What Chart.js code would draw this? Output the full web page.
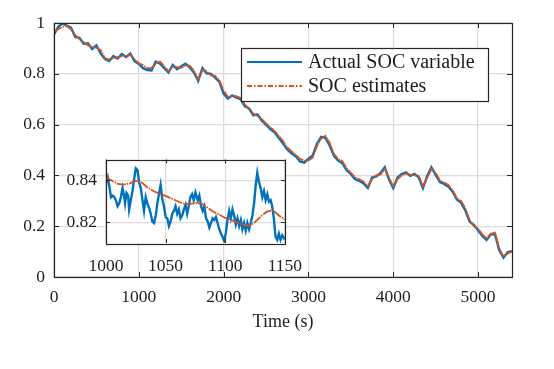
<!DOCTYPE html>
<html><head><meta charset="utf-8">
<script src="https://cdn.jsdelivr.net/npm/chart.js@4"></script>
<style>
html,body{margin:0;padding:0;background:#fff;}
#wrap{position:relative;width:554px;height:369px;overflow:hidden;}
#main{position:absolute;left:0;top:0;}
#inset{position:absolute;left:40px;top:140px;}
</style></head><body>
<div id="wrap">
<canvas id="main" width="554" height="369"></canvas>
<canvas id="inset" width="275" height="140"></canvas>
</div>
<script>
// ---------- data ----------
const seriesLabels = ['Actual SOC variable', 'SOC estimates'];
const xAxisTitle = 'Time (s)';

const xTicksMain = [0, 1000, 2000, 3000, 4000, 5000];
const xTickLabelsMain = ['0', '1000', '2000', '3000', '4000', '5000'];
const yTicksMain = [0, 0.2, 0.4, 0.6, 0.8, 1];
const yTickLabelsMain = ['0', '0.2', '0.4', '0.6', '0.8', '1'];

const xTicksInset = [1000, 1050, 1100, 1150];
const xTickLabelsInset = ['1000', '1050', '1100', '1150'];
const yTicksInset = [0.82, 0.84];
const yTickLabelsInset = ['0.82', '0.84'];

const mainTime = [0,50,100,150,200,250,300,350,400,450,500,550,600,650,700,750,800,850,900,950,
1000,1050,1100,1150,1200,1250,1300,1350,1400,1450,1500,1550,1600,1650,1700,1750,1800,1850,1900,1950,
2000,2050,2100,2150,2200,2250,2300,2350,2400,2450,2500,2550,2600,2650,2700,2750,2800,2850,2900,2950,
3000,3050,3100,3150,3200,3250,3300,3350,3400,3450,3500,3550,3600,3650,3700,3750,3800,3850,3900,3950,
4000,4050,4100,4150,4200,4250,4300,4350,4400,4450,4500,4550,4600,4650,4700,4750,4800,4850,4900,4950,
5000,5050,5100,5150,5200,5250,5300,5350,5400];

const actualSOC = [
0.955,0.985,0.998,0.990,0.982,0.945,0.942,0.918,0.920,0.898,
0.912,0.880,0.858,0.850,0.870,0.860,0.878,0.866,0.880,0.850,
0.839,0.822,0.815,0.813,0.848,0.840,0.822,0.805,0.835,0.818,
0.830,0.840,0.825,0.805,0.772,0.822,0.802,0.800,0.785,0.768,
0.722,0.702,0.715,0.706,0.700,0.672,0.664,0.636,0.640,0.615,
0.600,0.582,0.570,0.548,0.525,0.502,0.487,0.475,0.455,0.450,
0.466,0.478,0.525,0.552,0.548,0.518,0.478,0.458,0.448,0.420,
0.405,0.385,0.378,0.368,0.350,0.392,0.396,0.410,0.432,0.384,
0.350,0.392,0.405,0.412,0.398,0.406,0.392,0.350,0.398,0.432,
0.402,0.374,0.366,0.355,0.336,0.305,0.292,0.262,0.218,0.205,
0.184,0.162,0.146,0.168,0.168,0.105,0.076,0.098,0.102];

const estimatedSOC = [
0.965,0.975,0.985,0.988,0.975,0.952,0.937,0.925,0.912,0.905,
0.903,0.893,0.862,0.856,0.862,0.866,0.869,0.871,0.874,0.858,
0.841,0.834,0.823,0.822,0.840,0.848,0.830,0.810,0.828,0.826,
0.824,0.832,0.832,0.812,0.778,0.815,0.810,0.794,0.792,0.775,
0.735,0.709,0.711,0.712,0.705,0.680,0.660,0.644,0.634,0.622,
0.605,0.590,0.575,0.556,0.535,0.510,0.495,0.482,0.465,0.458,
0.459,0.470,0.515,0.545,0.556,0.528,0.485,0.465,0.456,0.428,
0.410,0.392,0.385,0.375,0.357,0.385,0.401,0.403,0.425,0.390,
0.358,0.385,0.400,0.407,0.403,0.400,0.398,0.358,0.390,0.425,
0.410,0.380,0.372,0.362,0.342,0.310,0.300,0.270,0.225,0.200,
0.190,0.168,0.152,0.170,0.175,0.112,0.080,0.093,0.099];

const insetActualTime = [1000,1001.4,1002.8,1004.2,1005.6,1006.9,1008.3,1009.7,1011.1,1012.5,
1013.9,1015.3,1016,1017.2,1018.6,1019.4,1020.8,1022.2,1023.6,1025,
1026.4,1027.8,1029.2,1030.6,1031.9,1033.3,1034.7,1036.1,1037.5,1038.9,
1040.3,1041.7,1043.1,1044.4,1045.8,1047.2,1048.6,1050,1051.4,1052.8,
1054.2,1055.6,1056.9,1058.3,1059.7,1061.1,1062.5,1063.9,1065.3,1066.7,
1068.1,1069.4,1070.8,1072.2,1073.6,1075,1076.9,1078.3,1079.7,1081.1,
1082.5,1083.9,1085.3,1086.7,1088.1,1089.4,1090.8,1092.2,1093.6,1095,
1096.4,1097.8,1099.2,1100.6,1101.9,1103.3,1104.7,1106.1,1107.5,1108.9,
1110.3,1111.7,1113.1,1114.4,1115.8,1117.2,1118.6,1120,1121.4,1122.8,
1124.2,1125.6,1126.9,1128.3,1129.7,1131.1,1132.5,1133.9,1135.3,1136.7,
1138.1,1139.4,1140.8,1142.2,1143.6,1145,1146.4,1147.8,1149.2,1150];

const insetActualSOC = [0.8390,0.8415,0.8370,0.8320,0.8327,0.8320,0.8305,0.8276,0.8290,0.8320,
0.8363,0.8320,0.8290,0.8340,0.8327,0.8261,0.8305,0.8349,0.8407,0.8458,
0.8450,0.8390,0.8363,0.8305,0.8254,0.8320,0.8290,0.8269,0.8240,0.8203,
0.8196,0.8232,0.8290,0.8334,0.8378,0.8312,0.8276,0.8225,0.8218,0.8181,
0.8203,0.8240,0.8254,0.8276,0.8240,0.8261,0.8218,0.8232,0.8261,0.8283,
0.8240,0.8276,0.8320,0.8334,0.8305,0.8342,0.8305,0.8327,0.8276,0.8254,
0.8276,0.8218,0.8203,0.8174,0.8196,0.8218,0.8210,0.8225,0.8196,0.8166,
0.8145,0.8130,0.8108,0.8152,0.8210,0.8254,0.8218,0.8261,0.8232,0.8188,
0.8218,0.8181,0.8210,0.8166,0.8196,0.8159,0.8196,0.8166,0.8196,0.8232,
0.8290,0.8378,0.8436,0.8393,0.8363,0.8320,0.8349,0.8305,0.8334,0.8298,
0.8305,0.8276,0.8218,0.8130,0.8115,0.8145,0.8115,0.8137,0.8123,0.8130];

const insetEstTime = [1000,1005,1010,1015,1020,1025,1030,1035,1040,1045,1050,1055,1060,1065,1070,1075,
1080,1085,1090,1095,1100,1105,1110,1115,1120,1125,1130,1135,1140,1145,1150];
const insetEstSOC = [0.8415,0.8398,0.8383,0.8380,0.8386,0.8398,0.8390,0.8365,0.8348,0.8336,0.8326,0.8313,
0.8300,0.8289,0.8286,0.8292,0.8290,0.8270,0.8250,0.8236,0.8220,0.8211,0.8198,0.8188,0.8182,0.8200,
0.8228,0.8250,0.8257,0.8232,0.8212];

// ---------- styling ----------
const FONT = "'Liberation Serif', 'Times New Roman', serif";
const TXT = '#1e1e1e';
const AXC = '#262626';
const GRID = '#dcdcdc';
const BLUE = '#0072BD';
const ORANGE = '#D95319';
const PLOT_DASH = [9, 1, 1.5, 1];
const LEGEND_DASH = [5, 2, 1.5, 2];

const pts = (xs, ys) => xs.map((x, i) => ({x: x, y: ys[i]}));

const framePlugin = {
  id: 'frame',
  afterDraw(chart, args, opts) {
    const {ctx, chartArea: a, scales} = chart;
    const L = opts.tick;
    ctx.save();
    ctx.strokeStyle = AXC;
    ctx.lineWidth = 1;
    ctx.beginPath();
    scales.x.ticks.forEach(t => {
      const p = Math.round(scales.x.getPixelForValue(t.value)) + 0.5;
      ctx.moveTo(p, a.bottom); ctx.lineTo(p, a.bottom - L);
      ctx.moveTo(p, a.top); ctx.lineTo(p, a.top + L);
    });
    scales.y.ticks.forEach(t => {
      const p = Math.round(scales.y.getPixelForValue(t.value)) + 0.5;
      ctx.moveTo(a.left, p); ctx.lineTo(a.left + L, p);
      ctx.moveTo(a.right, p); ctx.lineTo(a.right - L, p);
    });
    ctx.stroke();
    ctx.lineWidth = 1.2;
    ctx.strokeRect(Math.round(a.left) + 0.5, Math.round(a.top) + 0.5,
                   Math.round(a.right - a.left), Math.round(a.bottom - a.top));
    ctx.restore();
  }
};

const whiteArea = {
  id: 'whiteArea',
  beforeDraw(chart) {
    const {ctx, chartArea: a} = chart;
    ctx.save();
    ctx.fillStyle = '#fff';
    ctx.fillRect(a.left, a.top, a.right - a.left, a.bottom - a.top);
    ctx.restore();
  }
};

const boxLegend = {
  id: 'boxLegend',
  afterDraw(chart, args, o) {
    const ctx = chart.ctx;
    ctx.save();
    ctx.fillStyle = '#fff';
    ctx.fillRect(o.x, o.y, o.w, o.h);
    ctx.strokeStyle = AXC;
    ctx.lineWidth = 1.2;
    ctx.strokeRect(o.x + 0.5, o.y + 0.5, o.w, o.h);
    const ds = chart.data.datasets;
    const order = [1, 0];
    order.forEach((di, row) => {
      const d = ds[di];
      const yy = o.y + o.rowY[row];
      ctx.beginPath();
      ctx.strokeStyle = d.borderColor;
      ctx.lineWidth = 2;
      ctx.setLineDash(d.borderDash ? LEGEND_DASH : []);
      ctx.moveTo(o.x + 6, yy); ctx.lineTo(o.x + 61, yy);
      ctx.stroke();
      ctx.setLineDash([]);
      ctx.fillStyle = TXT;
      ctx.font = o.fontSize + 'px ' + FONT;
      ctx.textBaseline = 'middle';
      ctx.textAlign = 'left';
      ctx.fillText(d.label, o.x + 67, yy + 1);
    });
    ctx.restore();
  }
};

const tickFont = {family: FONT, size: 17.5};

new Chart(document.getElementById('main'), {
  type: 'line',
  data: {
    datasets: [
      {label: seriesLabels[1], data: pts(mainTime, estimatedSOC), borderColor: ORANGE,
       borderWidth: 1.8, borderDash: PLOT_DASH, pointRadius: 0, tension: 0, order: 0},
      {label: seriesLabels[0], data: pts(mainTime, actualSOC), borderColor: BLUE,
       borderWidth: 2.4, pointRadius: 0, tension: 0, order: 1}
    ]
  },
  options: {
    responsive: false, animation: false, events: [],
    layout: {padding: {top: 23, right: 42, bottom: 0, left: 0}},
    plugins: {
      legend: {display: false}, tooltip: {enabled: false},
      frame: {tick: 5},
      boxLegend: {x: 241, y: 48, w: 247, h: 53, rowY: [14, 38], fontSize: 20}
    },
    scales: {
      x: {
        type: 'linear', min: 0, max: 5400,
        afterBuildTicks: s => { s.ticks = xTicksMain.map(v => ({value: v})); },
        afterFit: s => { s.height = 92; },
        grid: {color: GRID, lineWidth: 1.2, drawTicks: false},
        border: {display: false},
        ticks: {font: tickFont, color: TXT, padding: 10, maxRotation: 0, autoSkip: false,
                callback: (v, i) => xTickLabelsMain[i]},
        title: {display: true, text: xAxisTitle, color: TXT, font: {family: FONT, size: 18},
                padding: {top: 0, bottom: 36}}
      },
      y: {
        type: 'linear', min: 0, max: 1,
        afterBuildTicks: s => { s.ticks = yTicksMain.map(v => ({value: v})); },
        afterFit: s => { s.width = 54; },
        grid: {color: GRID, lineWidth: 1.2, drawTicks: false},
        border: {display: false},
        ticks: {font: tickFont, color: TXT, padding: 9, callback: (v, i) => yTickLabelsMain[i]}
      }
    }
  },
  plugins: [framePlugin, boxLegend]
});

new Chart(document.getElementById('inset'), {
  type: 'line',
  data: {
    datasets: [
      {label: seriesLabels[1], data: pts(insetEstTime, insetEstSOC), borderColor: ORANGE,
       borderWidth: 1.8, borderDash: PLOT_DASH, pointRadius: 0, tension: 0, order: 0},
      {label: seriesLabels[0], data: pts(insetActualTime, insetActualSOC), borderColor: BLUE,
       borderWidth: 2.4, pointRadius: 0, tension: 0, order: 1}
    ]
  },
  options: {
    responsive: false, animation: false, events: [],
    layout: {padding: {top: 13, right: 30, bottom: 0, left: 0}},
    plugins: {legend: {display: false}, tooltip: {enabled: false}, frame: {tick: 4}},
    scales: {
      x: {
        type: 'linear', min: 1000, max: 1150,
        afterBuildTicks: s => { s.ticks = xTicksInset.map(v => ({value: v})); },
        afterFit: s => { s.height = 37; },
        grid: {color: GRID, lineWidth: 1.2, drawTicks: false},
        border: {display: false},
        ticks: {font: tickFont, color: TXT, padding: 13, maxRotation: 0, autoSkip: false,
                callback: (v, i) => xTickLabelsInset[i]}
      },
      y: {
        type: 'linear', min: 0.81, max: 0.85,
        afterBuildTicks: s => { s.ticks = yTicksInset.map(v => ({value: v})); },
        afterFit: s => { s.width = 66; },
        grid: {color: GRID, lineWidth: 1.2, drawTicks: false},
        border: {display: false},
        ticks: {font: tickFont, color: TXT, padding: 9, callback: (v, i) => yTickLabelsInset[i]}
      }
    }
  },
  plugins: [whiteArea, framePlugin]
});
</script>
</body></html>
